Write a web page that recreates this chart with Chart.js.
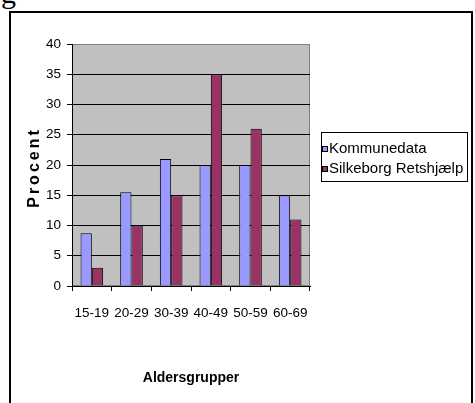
<!DOCTYPE html>
<html lang="da">
<head>
<meta charset="UTF-8">
<title>Aldersgrupper</title>
<script src="https://cdn.jsdelivr.net/npm/chart.js"></script>
<style>
    body {
        margin: 0;
        width: 475px;
        height: 403px;
        overflow: hidden;
        background: #fff;
        position: relative;
    }
    .top-g {
        position: absolute;
        left: 1px;
        top: -24px;
        font-family: "Liberation Serif", serif;
        font-size: 30px;
        color: #000;
    }
    .frame {
        position: absolute;
        left: 9px;
        top: 11px;
        width: 460px;
        height: 430px;
        border: 2px solid #000;
    }
    #chart {
        position: absolute;
        left: 0;
        top: 0;
    }
</style>
</head>
<body>
<div class="top-g">g</div>
<div class="frame"></div>
<canvas id="chart" width="475" height="403"></canvas>

<script>
// data
const ageGroups = ['15-19', '20-29', '30-39', '40-49', '50-59', '60-69'];
const seriesNames = ['Kommunedata', 'Silkeborg Retshjælp'];
const kommunedata = [8.7, 15.5, 21, 20, 20, 15];
const silkeborg = [3, 10, 15, 35, 26, 11];
const yTicks = [0, 5, 10, 15, 20, 25, 30, 35, 40];

const colors = ['#9999FF', '#993366'];
const sans = '"Liberation Sans", Arial, sans-serif';

// grey plot area behind the bars
const plotBg = {
    id: 'plotBg',
    beforeDraw(chart) {
        const { ctx, chartArea: a } = chart;
        ctx.save();
        ctx.fillStyle = '#C0C0C0';
        ctx.fillRect(a.left, a.top, a.right - a.left, a.bottom - a.top);
        ctx.strokeStyle = '#808080';
        ctx.lineWidth = 1;
        ctx.strokeRect(a.left + 0.5, a.top + 0.5, a.right - a.left - 1, a.bottom - a.top - 1);
        ctx.restore();
    }
};

// y title with spaced letters + boxed legend
const extras = {
    id: 'extras',
    afterDraw(chart) {
        const ctx = chart.ctx;
        const a = chart.chartArea;

        ctx.save();
        ctx.translate(35, (a.top + a.bottom) / 2 + 4);
        ctx.rotate(-Math.PI / 2);
        ctx.letterSpacing = '3px';
        ctx.font = 'bold 16px ' + sans;
        ctx.fillStyle = '#000';
        ctx.textAlign = 'center';
        ctx.textBaseline = 'middle';
        ctx.fillText('Procent', 1.5, 0);
        ctx.restore();

        // legend
        ctx.save();
        ctx.strokeStyle = '#000';
        ctx.lineWidth = 1;
        ctx.strokeRect(321.5, 132.5, 146, 49);
        ctx.font = '15px ' + sans;
        ctx.textBaseline = 'alphabetic';
        chart.data.datasets.forEach((ds, i) => {
            const y = 153 + i * 20;
            ctx.fillStyle = ds.backgroundColor;
            ctx.fillRect(322.5, y - 6.5, 5, 5);
            ctx.strokeRect(322.5, y - 6.5, 5, 5);
            ctx.fillStyle = '#000';
            ctx.fillText(ds.label, 329, y);
        });
        ctx.restore();
    }
};

new Chart(document.getElementById('chart'), {
    type: 'bar',
    data: {
        labels: ageGroups,
        datasets: [{
            label: seriesNames[0],
            data: kommunedata,
            backgroundColor: colors[0],
            borderColor: '#000',
            borderWidth: 1
        }, {
            label: seriesNames[1],
            data: silkeborg,
            backgroundColor: colors[1],
            borderColor: '#000',
            borderWidth: 1
        }]
    },
    options: {
        responsive: false,
        animation: false,
        devicePixelRatio: 1,
        layout: { padding: { top: 44, right: 165, left: 0, bottom: 0 } },
        plugins: {
            legend: { display: false },
            tooltip: { enabled: false }
        },
        datasets: {
            bar: { categoryPercentage: 0.57, barPercentage: 1 }
        },
        scales: {
            x: {
                afterFit(s) { s.height = 117; },
                grid: {
                    display: true,
                    drawOnChartArea: false,
                    drawTicks: true,
                    tickLength: 5,
                    color: '#000',
                    offset: true
                },
                border: { display: true, color: '#000', width: 1 },
                ticks: {
                    color: '#000',
                    padding: 14,
                    maxRotation: 0,
                    autoSkip: false,
                    font: { family: sans, size: 13.5 }
                },
                title: {
                    display: true,
                    text: 'Aldersgrupper',
                    color: '#000',
                    font: { family: sans, size: 14, weight: 'bold' },
                    padding: { top: 0, bottom: 16 }
                }
            },
            y: {
                min: 0,
                max: 40,
                afterFit(s) { s.width = 72; },
                afterBuildTicks(s) { s.ticks = yTicks.map(v => ({ value: v })); },
                grid: {
                    color: ctx => (ctx.tick && ctx.tick.value === 40) ? '#808080' : '#000',
                    tickColor: '#000',
                    tickLength: 5,
                    lineWidth: 1
                },
                border: { display: true, color: '#000', width: 1 },
                ticks: {
                    color: '#000',
                    padding: 6,
                    font: { family: sans, size: 13.5 }
                }
            }
        }
    },
    plugins: [plotBg, extras]
});
</script>
</body>
</html>
